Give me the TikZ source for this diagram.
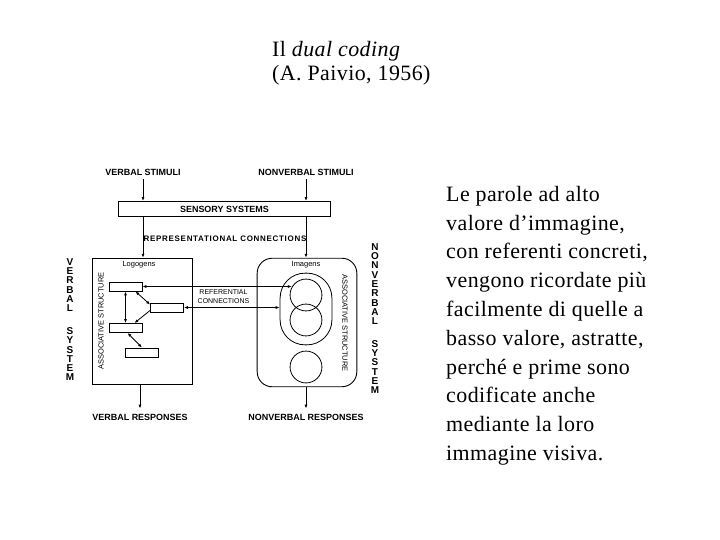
\documentclass[tikz,border=0pt]{standalone}
\usepackage{fontspec}
\setmainfont{Liberation Serif}
\setsansfont{Liberation Sans}
\newfontfamily\slidefont[LetterSpace=2]{Liberation Serif}
\newfontfamily\widesans[LetterSpace=9]{Liberation Sans}
\usetikzlibrary{positioning,arrows.meta}

\begin{document}
\begin{tikzpicture}[
  x=1bp, y=-1bp,
  lbl/.style={font=\sffamily\bfseries\fontsize{9}{10}\selectfont, inner sep=0pt},
  sml/.style={font=\sffamily\fontsize{7.5}{8}\selectfont, inner sep=0pt},
  box/.style={draw, line width=0.9pt, inner sep=0pt},
  cell/.style={draw, line width=0.8pt, minimum width=33, minimum height=9, inner sep=0pt},
  ring/.style={draw, circle, line width=0.8pt, minimum size=32, inner sep=0pt},
  vert/.style={anchor=north, inner sep=0pt, align=center,
               font=\sffamily\bfseries\fontsize{10}{9.3}\selectfont},
  arr/.style={-{Latex[length=4pt,width=3pt]}, line width=0.8pt},
  darr/.style={{Latex[length=4pt,width=3pt]}-{Latex[length=4pt,width=3pt]}, line width=0.8pt}
]
\useasboundingbox (0,0) rectangle (720,540);

% slide texts
\node[anchor=north west, inner sep=0pt, align=left,
      font=\slidefont\fontsize{22}{24}\selectfont] (title) at (272,41)
  {Il \textit{dual coding}\\(A. Paivio, 1956)};
\node[anchor=north west, inner sep=0pt, align=left,
      font=\slidefont\fontsize{22}{28.9}\selectfont] (note) at (446,186)
  {Le parole ad alto\\valore d’immagine,\\con referenti concreti,\\vengono ricordate più\\facilmente di quelle a\\basso valore, astratte,\\perché e prime sono\\codificate anche\\mediante la loro\\immagine visiva.};

% input side
\node[lbl] (vstim) at (143,172) {VERBAL STIMULI};
\node[lbl] (nstim) at (306,172) {NONVERBAL STIMULI};
\node[box, font=\sffamily\bfseries\fontsize{9}{10}\selectfont,
      minimum width=213, minimum height=15] (sens) at (224.5,209) {SENSORY SYSTEMS};
\node[inner sep=0pt, font=\widesans\bfseries\fontsize{8}{9}\selectfont] (repr) at (225,239)
  {REPRESENTATIONAL CONNECTIONS};

\draw[arr, shorten <=4pt] (vstim.south) -- (vstim.south |- sens.north);
\draw[arr, shorten <=4pt] (nstim.south) -- (nstim.south |- sens.north);

% the two systems
\node[box, minimum width=101, minimum height=127] (vsys) at (142.5,321.5) {};
\node[box, rounded corners=15pt, minimum width=100, minimum height=129] (nsys) at (307,322.5) {};
\draw[arr] (sens.south -| vstim) -- (vsys.north -| vstim);
\draw[arr] (sens.south -| nstim) -- (nsys.north -| nstim);

\node[sml] (logo) at (139,265) {Logogens};
\node[sml] (imag) at (306,265) {Imagens};
\node[sml, rotate=90]  (vassoc) at (101,321) {ASSOCIATIVE STRUCTURE};
\node[sml, rotate=-90] (nassoc) at (345,323) {ASSOCIATIVE STRUCTURE};

\node[vert] (vlab) at (70,258.4)  {V\\E\\R\\B\\A\\L\\[13.6pt]S\\Y\\S\\T\\E\\M};
\node[vert] (nlab) at (375,243.4) {N\\O\\N\\V\\E\\R\\B\\A\\L\\[13.6pt]S\\Y\\S\\T\\E\\M};

% logogens
\node[cell] (lg1) at (125.5,286.5) {};
\node[cell] (lg2) at (167,307.5)   {};
\node[cell] (lg3) at (125.5,328)   {};
\node[cell] (lg4) at (142,352.5)   {};
\draw[darr] (lg1.south) -- (lg3.north);
\draw[darr] ([xshift=-7pt]lg1.south east) -- ([yshift=-2pt]lg2.north west);
\draw[arr]  ([yshift=2pt]lg2.south west) -- ([xshift=-8pt]lg3.north east);
\draw[darr] ([xshift=2pt]lg3.south) -- (lg4.north);

% imagens
\node[draw, line width=0.8pt, rounded corners=25pt, minimum width=52, minimum height=72] (pool) at (306,309) {};
\node[ring] (im1) at (306,295) {};
\node[ring] (im2) at (306,320) {};
\node[ring] (im3) at (306,367) {};

% referential connections
\draw[darr] (lg1.east) -- (lg1.east -| im1.150);
\draw[darr] (lg2.east) -- (lg2.east -| pool.west);
\node[inner sep=0pt, align=center, font=\sffamily\fontsize{7}{9}\selectfont] (refc) at (223.5,297)
  {REFERENTIAL\\CONNECTIONS};

% output side
\node[lbl] (vresp) at (140,417) {VERBAL RESPONSES};
\node[lbl] (nresp) at (306,417) {NONVERBAL RESPONSES};
\draw[arr, shorten >=5pt] (vsys.south -| vresp) -- (vresp.north);
\draw[arr, shorten >=5pt] (nsys.south -| nresp) -- (nresp.north);
\end{tikzpicture}
\end{document}
